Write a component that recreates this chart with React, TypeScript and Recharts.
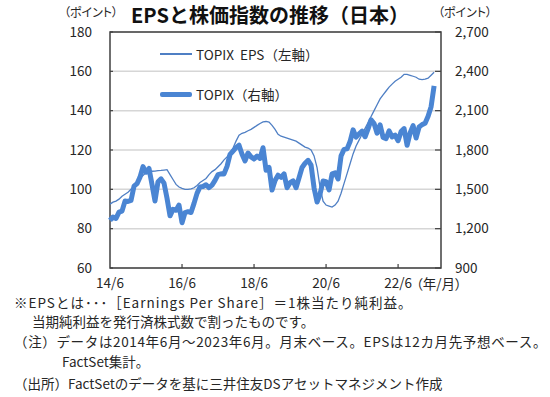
import { ComposedChart, Line, XAxis, YAxis, CartesianGrid, ReferenceArea } from 'recharts';

const FONT = '"Noto Sans CJK JP", "Noto Sans", sans-serif';

// monthly, 2014/6 .. 2023/6
const EPS = [
  92.5, 93.5, 94, 95, 96.5, 97.5, 98.5, 100, 101.5, 103.5, 105.5, 107,
  108.5, 109, 109.2, 109.3, 109.5, 109.6, 109.8, 110, 107.5, 105, 102.5, 101.2,
  100.5, 100, 100, 100.2, 100.8, 102, 103.5, 104.5, 105.5, 107.5, 109, 110,
  111.5, 113, 115, 116.5, 118.5, 121, 124.5, 127.5, 128.5, 129, 129.8, 130.5,
  131.5, 132.5, 133.5, 134.3, 134.5, 134.2, 132.5, 130.5, 128, 127, 126.5, 126,
  125.5, 125, 124.5, 123.5, 122.5, 121.5, 121, 120, 117, 111, 101, 94,
  92, 91.5, 91, 92, 94, 98, 103, 108, 113, 118, 122, 125,
  128, 131, 134, 137, 140, 143, 146, 148, 150, 152, 153.5, 155,
  156, 157, 158.5, 158.5, 158, 157.5, 157, 156, 155.8, 156, 156.5, 158,
  159.5,
];

const TOPIX = [
  1262.6, 1289.4, 1278.0, 1326.3, 1333.6, 1410.3, 1407.5,
  1415.1, 1523.9, 1543.1, 1592.8, 1673.7, 1630.4, 1659.5, 1537.1, 1411.2, 1558.2, 1580.3, 1547.3,
  1432.1, 1297.9, 1347.2, 1340.6, 1379.8, 1245.8, 1322.7, 1329.5, 1322.8, 1393.0, 1469.4, 1518.6,
  1521.7, 1535.3, 1512.6, 1531.8, 1568.4, 1611.9, 1618.6, 1617.4, 1674.8, 1766.0, 1792.1, 1817.6,
  1836.7, 1768.2, 1716.3, 1777.2, 1747.5, 1730.9, 1753.3, 1735.4, 1817.3, 1646.1, 1667.5, 1494.1,
  1567.5, 1607.7, 1591.6, 1617.9, 1512.3, 1551.1, 1565.1, 1511.9, 1587.8, 1667.0, 1699.4, 1721.4,
  1684.4, 1510.9, 1403.0, 1464.0, 1563.7, 1558.8, 1496.1, 1618.2, 1625.5, 1579.3, 1754.9, 1804.7,
  1808.8, 1864.5, 1954.0, 1898.2, 1923.0, 1943.6, 1901.1, 1960.7, 2030.2, 2001.2, 1928.4, 1992.3,
  1895.9, 1886.9, 1946.4, 1899.6, 1912.7, 1870.8, 1940.3, 1963.2, 1835.9, 1929.4, 1985.6, 1891.7,
  1975.3, 1993.3, 2003.5, 2057.5, 2130.6, 2288.6,
];

const X_TICKS = [0, 24, 48, 72, 96];
const X_LABELS = ['14/6', '16/6', '18/6', '20/6', '22/6'];
const LEFT_TICKS = [60, 80, 100, 120, 140, 160, 180];
const RIGHT_TICKS = [900, 1200, 1500, 1800, 2100, 2400, 2700];

const data = EPS.map((eps, i) => ({ i, eps, topix: TOPIX[i] }));

const PLOT = { left: 110, right: 441, top: 32, bottom: 268 };
const INK = '#262626';
const BORDER = '#404040';
const BLUE_THIN = '#4f7fc4';
const BLUE_THICK = '#4a85d3';

function LeftTick({ x, y, payload }: any) {
  return (
    <g>
      <line x1={PLOT.left} x2={PLOT.left + 3} y1={y} y2={y} stroke={BORDER} strokeWidth={1.2} />
      <text x={x} y={y} dy={4.5} textAnchor="end" fontSize={13.5} fill={INK}>{payload.value}</text>
    </g>
  );
}

function RightTick({ x, y, payload }: any) {
  return (
    <g>
      <line x1={PLOT.right - 6} x2={PLOT.right} y1={y} y2={y} stroke={BORDER} strokeWidth={1.2} />
      <text x={x} y={y} dy={4.5} textAnchor="start" fontSize={13.5} fill={INK}>
        {payload.value.toLocaleString('en-US')}
      </text>
    </g>
  );
}

function BottomTick({ x, y, payload, index }: any) {
  return (
    <g>
      {index > 0 && <line x1={x} x2={x} y1={PLOT.bottom - 4} y2={PLOT.bottom} stroke={BORDER} strokeWidth={1.2} />}
      <text x={x} y={y} dy={10} textAnchor="middle" fontSize={13.5} fill={INK}>{X_LABELS[index]}</text>
    </g>
  );
}

function LegendRow({ thick, label, top }: { thick?: boolean; label: string; top: number }) {
  return (
    <div style={{ position: 'absolute', left: 160, top, display: 'flex', alignItems: 'center', gap: 4 }}>
      <span style={{ width: 32, height: thick ? 5 : 1.4, background: thick ? BLUE_THICK : BLUE_THIN, borderRadius: thick ? 2 : 0 }} />
      <span style={{ fontSize: 13.5, color: INK, whiteSpace: 'pre' }}>{label}</span>
    </div>
  );
}

const abs = (left: number, top: number, extra: any = {}) => ({
  position: 'absolute' as const, left, top, whiteSpace: 'nowrap' as const, lineHeight: 1, ...extra,
});

export default function App() {
  return (
    <div style={{ position: 'absolute', left: 0, top: 0, width: 550, height: 397, background: '#fff', fontFamily: FONT, color: INK }}>
      <ComposedChart width={550} height={300} data={data} margin={{ top: 32, right: 49, bottom: 7, left: 50 }}>
        <CartesianGrid yAxisId="left" vertical={false} stroke="#d6d6d6" strokeWidth={1.5} />
        <XAxis dataKey="i" type="number" domain={[0, 110.3]} ticks={X_TICKS} height={25} axisLine={false} tickLine={false} tickMargin={4} tick={<BottomTick />} />
        <YAxis yAxisId="left" domain={[60, 180]} ticks={LEFT_TICKS} width={60} axisLine={false} tickLine={false} tickMargin={12} tick={<LeftTick />} />
        <YAxis yAxisId="right" orientation="right" domain={[900, 2700]} ticks={RIGHT_TICKS} width={60} axisLine={false} tickLine={false} tickMargin={8} tick={<RightTick />} />
        <ReferenceArea yAxisId="left" x1={0} x2={110.3} y1={60} y2={180} fill="none" stroke={BORDER} strokeWidth={1.5} />
        <Line yAxisId="left" dataKey="eps" stroke={BLUE_THIN} strokeWidth={1.3} dot={false} isAnimationActive={false} />
        <Line yAxisId="right" dataKey="topix" stroke={BLUE_THICK} strokeWidth={5} strokeLinejoin="round" dot={false} isAnimationActive={false} />
      </ComposedChart>

      <div style={abs(130, 5, { width: 280, textAlign: 'center', fontSize: 20, fontWeight: 700, color: '#111' })}>EPSと株価指数の推移（日本）</div>
      <div style={abs(64, 6, { fontSize: 12, fontFeatureSettings: '"palt"' })}>（ポイント）</div>
      <div style={abs(438, 6, { fontSize: 12, fontFeatureSettings: '"palt"' })}>（ポイント）</div>
      <div style={abs(416, 277, { fontSize: 13.5, fontFeatureSettings: '"palt"' })}>（年/月）</div>

      <LegendRow label="TOPIX  EPS（左軸）" top={44} />
      <LegendRow thick label="TOPIX（右軸）" top={84} />

      <div style={{ fontSize: 13.5 }}>
        <div style={abs(14, 296, { letterSpacing: 1 })}>※EPSとは･･･［Earnings Per Share］＝1株当たり純利益。</div>
        <div style={abs(32, 315)}>当期純利益を発行済株式数で割ったものです。</div>
        <div style={abs(14, 335, { letterSpacing: 0.65 })}>（注）データは2014年6月～2023年6月。月末ベース。EPSは12カ月先予想ベース。</div>
        <div style={abs(62, 355)}>FactSet集計。</div>
        <div style={abs(14, 377)}>（出所）FactSetのデータを基に三井住友DSアセットマネジメント作成</div>
      </div>
    </div>
  );
}
